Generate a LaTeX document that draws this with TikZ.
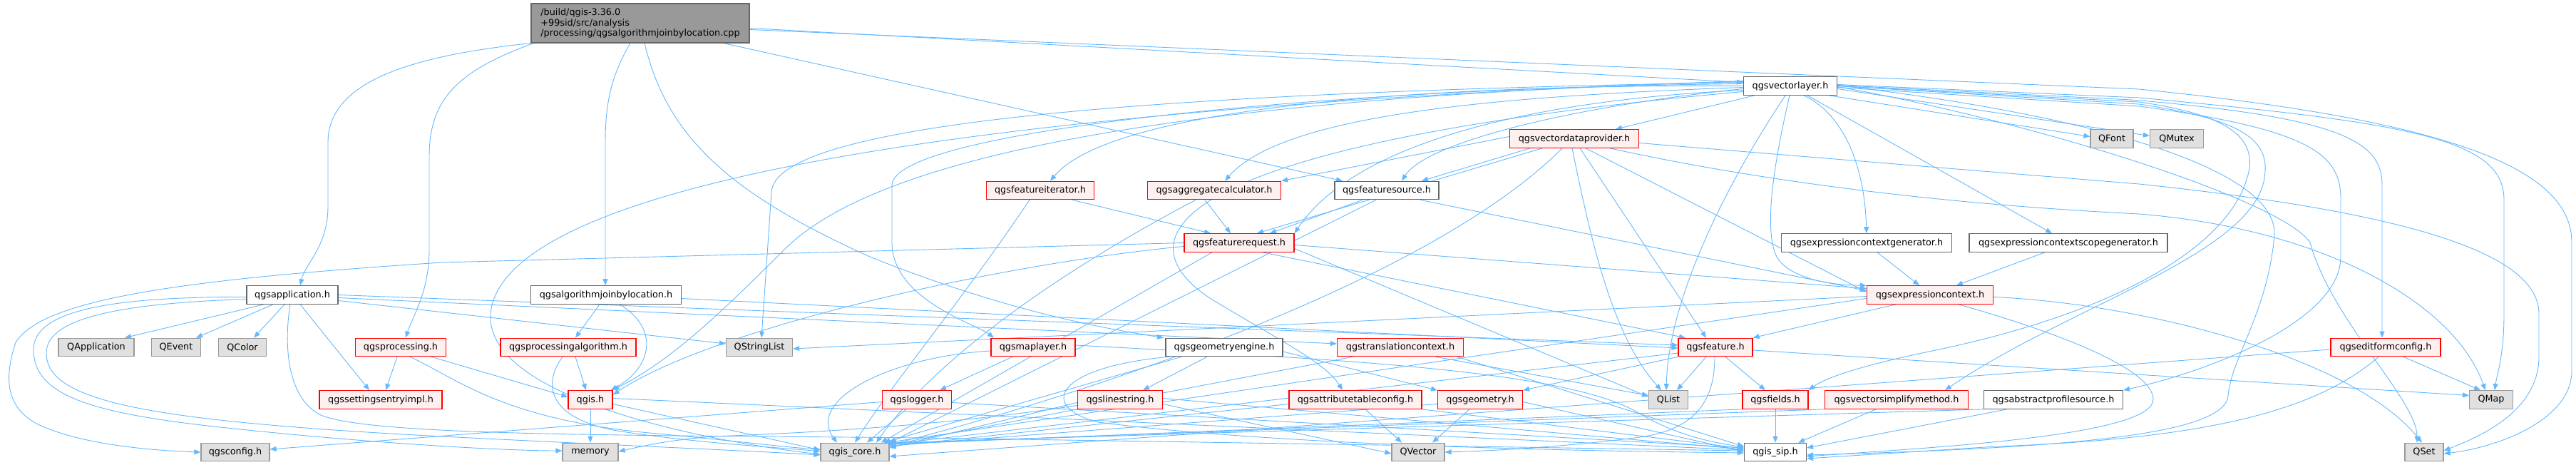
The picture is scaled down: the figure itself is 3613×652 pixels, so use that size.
\documentclass[tikz,border=0pt]{standalone}
\usepackage{fontspec}
\setmainfont{DejaVu Sans}
\usetikzlibrary{arrows.meta}
\pgfdeclarelayer{bg}
\pgfsetlayers{bg,main}
\definecolor{edgec}{HTML}{63B8FF}
\definecolor{mainfill}{HTML}{999999}
\definecolor{mainborder}{HTML}{666666}
\definecolor{redfill}{HTML}{FFF0F0}
\definecolor{redborder}{HTML}{FF0000}
\definecolor{grayfill}{HTML}{E0E0E0}
\definecolor{grayborder}{HTML}{999999}
\definecolor{whiteborder}{HTML}{666666}
\begin{document}
\begin{tikzpicture}[x=1pt,y=-1pt,
  nd/.style={rectangle, minimum height=25.5pt, inner xsep=4pt, inner ysep=0pt, line width=1.2pt, font=\fontsize{12.8}{14.6}\selectfont},
  wnode/.style={nd, fill=white, draw=whiteborder},
  rnode/.style={nd, fill=redfill, draw=redborder},
  gnode/.style={nd, fill=grayfill, draw=grayborder},
  mainnode/.style={nd, fill=mainfill, draw=mainborder, minimum width=306pt, minimum height=55pt, align=left},
  lnk/.style={draw=edgec, line width=0.9pt, -{Triangle[length=9pt,width=7pt]}}]
\useasboundingbox (0,0) rectangle (3613,652);

% nodes
\node[mainnode] (main) at (898,32.5) {/build/qgis-3.36.0\\+99sid/src/analysis\\/processing/qgsalgorithmjoinbylocation.cpp};
\node[wnode, minimum width=131pt] (vl) at (2511,120.5) {qgsvectorlayer.h};
\node[rnode, minimum width=181pt] (vdp) at (2208,194.5) {qgsvectordataprovider.h};
\node[gnode, minimum width=60pt] (qfont) at (2962,194.5) {QFont};
\node[gnode, minimum width=75pt] (qmutex) at (3053,194.5) {QMutex};
\node[rnode, minimum width=151pt] (fiter) at (1459,267) {qgsfeatureiterator.h};
\node[rnode, minimum width=187pt] (aggr) at (1703,267) {qgsaggregatecalculator.h};
\node[wnode, minimum width=146pt] (fsrc) at (1945,267) {qgsfeaturesource.h};
\node[rnode, minimum width=154pt] (freq) at (1738,340.5) {qgsfeaturerequest.h};
\node[wnode, minimum width=239pt] (ecg) at (2618,340.5) {qgsexpressioncontextgenerator.h};
\node[wnode, minimum width=278pt] (ecsg) at (2901,340.5) {qgsexpressioncontextscopegenerator.h};
\node[wnode, minimum width=128pt] (app) at (410,413.5) {qgsapplication.h};
\node[wnode, minimum width=211pt] (ajbl) at (850,413.5) {qgsalgorithmjoinbylocation.h};
\node[rnode, minimum width=177pt] (ec) at (2707,413.5) {qgsexpressioncontext.h};
\node[gnode, minimum width=106pt] (qapp) at (135,487) {QApplication};
\node[gnode, minimum width=69pt] (qevent) at (247,487) {QEvent};
\node[gnode, minimum width=67pt] (qcolor) at (340,487) {QColor};
\node[rnode, minimum width=127pt] (proc) at (562,487) {qgsprocessing.h};
\node[rnode, minimum width=190pt] (palg) at (797,487) {qgsprocessingalgorithm.h};
\node[gnode, minimum width=93pt] (qsl) at (1065,487) {QStringList};
\node[rnode, minimum width=118pt] (maplayer) at (1449,487) {qgsmaplayer.h};
\node[wnode, minimum width=164pt] (geng) at (1717,487) {qgsgeometryengine.h};
\node[rnode, minimum width=177pt] (trans) at (1964,487) {qgstranslationcontext.h};
\node[rnode, minimum width=104pt] (feature) at (2406,487) {qgsfeature.h};
\node[rnode, minimum width=154pt] (efc) at (3346,487) {qgseditformconfig.h};
\node[rnode, minimum width=172pt] (settings) at (534,560.5) {qgssettingsentryimpl.h};
\node[rnode, minimum width=62pt] (qgis) at (828,560.5) {qgis.h};
\node[rnode, minimum width=97pt] (logger) at (1286,560.5) {qgslogger.h};
\node[rnode, minimum width=119pt] (linestr) at (1571,560.5) {qgslinestring.h};
\node[rnode, minimum width=186pt] (attr) at (1901,560.5) {qgsattributetableconfig.h};
\node[rnode, minimum width=119pt] (geom) at (2076,560.5) {qgsgeometry.h};
\node[gnode, minimum width=55pt] (qlist) at (2340,560.5) {QList};
\node[rnode, minimum width=92pt] (fields) at (2490,560.5) {qgsfields.h};
\node[rnode, minimum width=201pt] (vsm) at (2660,560.5) {qgsvectorsimplifymethod.h};
\node[wnode, minimum width=195pt] (aps) at (2880,560.5) {qgsabstractprofilesource.h};
\node[gnode, minimum width=61pt] (qmap) at (3494,560.5) {QMap};
\node[gnode, minimum width=96pt] (config) at (330,634) {qgsconfig.h};
\node[gnode, minimum width=78pt] (memory) at (828,634) {memory};
\node[gnode, minimum width=96pt] (core) at (1199,634) {qgis\_core.h};
\node[gnode, minimum width=74pt] (qvector) at (1989,634) {QVector};
\node[wnode, minimum width=87pt] (sip) at (2490,634) {qgis\_sip.h};
\node[gnode, minimum width=54pt] (qset) at (3400,634) {QSet};

\begin{pgfonlayer}{bg}
% main
\draw[lnk] (main.south west) .. controls (560,80) and (460,120) .. (460,200) -- (460,290) .. controls (460,345) and (428,370) .. ([xshift=11pt]app.north);
\draw[lnk] ([xshift=4pt]main.south west) .. controls (640,100) and (602,140) .. (602,220) -- (602,350) .. controls (602,410) and (578,445) .. ([xshift=7pt]proc.north);
\draw[lnk] ([xshift=-14pt]main.south) .. controls (855,110) and (849,150) .. (849,200) -- ([xshift=-1pt]ajbl.north);
\draw[lnk] ([xshift=6pt]main.south) .. controls (935,190) and (1020,270) .. (1220,360) .. controls (1420,440) and (1560,462) .. ([xshift=-85pt]geng.north);
\draw[lnk] ([xshift=117pt]main.south) -- ([xshift=-62pt]fsrc.north);
\draw[lnk] ([yshift=-7pt]main.east) -- ([yshift=5pt]vl.west);
\draw[lnk] ([yshift=-9pt]main.east) -- (3000,125) .. controls (3450,170) and (3607,240) .. (3607,340) -- (3607,520) .. controls (3607,590) and (3500,628) .. ([yshift=-2pt]qset.east);
% vl right
\draw[lnk] ([xshift=-12pt]vl.south east) -- ([yshift=3pt]qfont.west);
\draw[lnk] ([yshift=-4pt]vl.east) -- ([yshift=4pt]qmutex.west);
\draw[lnk] ([yshift=1pt]vl.east) -- (2990,140) .. controls (3290,165) and (3341,200) .. (3341,260) -- ([xshift=-5pt]efc.north);
\draw[lnk] ([yshift=2pt]vl.east) -- (3000,137) .. controls (3380,172) and (3512,195) .. (3512,280) -- (3512,440) .. controls (3512,500) and (3502,525) .. ([xshift=5pt]qmap.north);
\draw[lnk] ([yshift=-1pt]vl.east) .. controls (2850,170) and (3200,280) .. (3240,340) .. controls (3270,450) and (3390,560) .. ([xshift=-10pt]qset.north);
\draw[lnk] (vl.east) -- (3000,143) .. controls (3120,160) and (3160,190) .. (3155,235) .. controls (3140,330) and (3000,430) .. (2720,490) .. controls (2610,512) and (2560,530) .. (fields.north east);
\draw[lnk] (vl.east) -- (3000,146) .. controls (3165,170) and (3185,205) .. (3175,255) .. controls (3150,360) and (2900,430) .. ([xshift=68pt]vsm.north);
\draw[lnk] ([yshift=-2pt]vl.east) -- (3000,149) .. controls (3250,182) and (3283,220) .. (3283,280) -- (3283,360) .. controls (3283,450) and (3100,520) .. (aps.north east);
\draw[lnk] ([yshift=1pt]vl.east) .. controls (3000,170) and (3195,250) .. (3190,330) .. controls (3180,440) and (3130,500) .. (3125,555) .. controls (3120,610) and (2900,628) .. ([yshift=-4pt]sip.east);
% vl bottom
\draw[lnk] ([xshift=19pt]vl.south) .. controls (2585,160) and (2615,230) .. (ecg.north);
\draw[lnk] ([xshift=24pt]vl.south) -- ([xshift=-23pt]ecsg.north);
\draw[lnk] ([xshift=-1pt]vl.south) .. controls (2490,220) and (2470,330) .. (2495,365) .. controls (2520,395) and (2580,400) .. (ec.north west);
\draw[lnk] ([xshift=-7pt]vl.south) .. controls (2420,260) and (2340,420) .. ([xshift=-3pt]qlist.north);
\draw[lnk] ([xshift=-50pt]vl.south) -- ([xshift=58pt]vdp.north);
% vl left
\draw[lnk] ([yshift=-4pt]vl.west) .. controls (2200,150) and (2000,200) .. ([xshift=21pt]fsrc.north);
\draw[lnk] ([yshift=-2pt]vl.west) .. controls (2100,135) and (1800,160) .. ([xshift=15pt]aggr.north);
\draw[lnk] (vl.west) .. controls (2000,118) and (1560,150) .. ([xshift=14pt]fiter.north);
\draw[lnk] ([yshift=-6pt]vl.west) .. controls (2150,140) and (1900,200) .. (freq.north east);
\draw[lnk] ([yshift=3pt]vl.west) .. controls (1900,122) and (1251,180) .. (1251,260) -- (1251,340) .. controls (1251,420) and (1370,455) .. ([xshift=-55pt]maplayer.north);
\draw[lnk] ([yshift=5pt]vl.west) .. controls (1700,128) and (1085,165) .. (1082,270) -- ([xshift=3pt]qsl.north);
\draw[lnk] ([yshift=6pt]vl.west) .. controls (1500,140) and (1200,250) .. (1100,350) .. controls (1000,450) and (940,505) .. (qgis.north east);
\draw[lnk] ([yshift=7pt]vl.west) .. controls (1100,160) and (700,300) .. (688,440) .. controls (680,560) and (1000,620) .. ([yshift=-3pt]core.west);
\draw[lnk] ([yshift=-8pt]vl.west) .. controls (1650,200) and (1560,330) .. (1700,420) .. controls (1800,480) and (1860,510) .. ([xshift=-18pt]attr.north);
% vdp
\draw[lnk] ([yshift=3pt]vdp.west) -- (aggr.north east);
\draw[lnk] ([xshift=-45pt]vdp.south) -- ([xshift=25pt]freq.north);
\draw[lnk] ([xshift=-62pt]vdp.south) -- ([xshift=49pt]fsrc.north);
\draw[lnk] ([xshift=-17pt]vdp.south) .. controls (2000,400) and (1500,560) .. ([yshift=-3pt]core.north east);
\draw[lnk] ([xshift=-3pt]vdp.south) .. controls (2230,330) and (2260,470) .. ([xshift=-10pt]qlist.north);
\draw[lnk] ([xshift=8pt]vdp.south) -- ([xshift=-13pt]feature.north);
\draw[lnk] ([xshift=16pt]vdp.south) -- ([yshift=4pt]ec.west);
\draw[lnk] ([xshift=50pt]vdp.south) .. controls (2450,250) and (2700,285) .. (3000,300) .. controls (3250,320) and (3440,420) .. ([xshift=-8pt]qmap.north);
\draw[lnk] ([yshift=-6pt]vdp.east) -- (3000,258) .. controls (3400,300) and (3561,360) .. (3561,440) -- (3561,500) .. controls (3561,580) and (3470,615) .. ([yshift=2pt]qset.east);
% fsrc
\draw[lnk] ([xshift=-34pt]fsrc.south) -- ([xshift=43pt]freq.north);
\draw[lnk] ([xshift=-15pt]fsrc.south) -- (core.north east);
\draw[lnk] ([xshift=47pt]fsrc.south) -- ([yshift=6pt]ec.west);
% fiter, aggr
\draw[lnk] ([xshift=45pt]fiter.south) -- ([xshift=-40pt]freq.north);
\draw[lnk] ([xshift=-15pt]fiter.south) .. controls (1350,420) and (1250,540) .. (core.north);
\draw[lnk] ([xshift=-13pt]aggr.south) -- ([xshift=-12pt]freq.north);
\draw[lnk] ([xshift=68pt]aggr.south west) .. controls (1450,400) and (1300,520) .. ([xshift=30pt]core.north);
% freq
\draw[lnk] (freq.west) -- (620,368) .. controls (250,392) and (60,420) .. (22,480) .. controls (2,540) and (12,582) .. (70,602) .. controls (130,625) and (220,632) .. (config.west);
\draw[lnk] ([yshift=-5pt]freq.west) .. controls (1400,370) and (1000,460) .. ([yshift=7pt]qgis.east);
\draw[lnk] ([xshift=-38pt]freq.south) -- ([xshift=-12pt]core.north east);
\draw[lnk] ([yshift=-3pt]freq.east) -- ([yshift=9pt]ec.west);
\draw[lnk] ([xshift=33pt]freq.south) -- ([xshift=-42pt]feature.north);
\draw[lnk] ([yshift=-8pt]freq.east) -- ([yshift=4pt]qlist.west);
% app
\draw[lnk] ([xshift=-40pt]app.south) -- ([xshift=40pt]qapp.north);
\draw[lnk] ([xshift=-27pt]app.south) -- ([xshift=28pt]qevent.north);
\draw[lnk] ([xshift=-11pt]app.south) -- ([xshift=16pt]qcolor.north);
\draw[lnk] ([xshift=11pt]app.south) -- ([xshift=-16pt]settings.north);
\draw[lnk] ([yshift=-3pt]app.west) .. controls (180,416) and (47,430) .. (47,490) .. controls (47,552) and (120,578) .. (300,598) .. controls (500,620) and (700,632) .. ([yshift=2pt]memory.west);
\draw[lnk] ([yshift=-6pt]app.west) .. controls (150,426) and (65,450) .. (65,495) .. controls (65,562) and (200,590) .. (620,612) .. controls (900,626) and (1050,632) .. ([yshift=-4pt]core.west);
\draw[lnk] ([xshift=-3pt]app.south) .. controls (397,490) and (405,560) .. (450,582) .. controls (520,612) and (900,610) .. (1300,614) -- ([yshift=2pt]sip.west);
\draw[lnk] ([yshift=-8pt]app.east) -- ([yshift=5pt]qsl.west);
\draw[lnk] ([yshift=-4pt]app.east) -- ([yshift=5pt]trans.west);
\draw[lnk] (app.east) -- ([yshift=3pt]feature.west);
% proc, palg, ajbl
\draw[lnk] ([xshift=-5pt]proc.south) -- ([xshift=7pt]settings.north);
\draw[lnk] ([xshift=43pt]proc.south) -- ([yshift=4pt]qgis.west);
\draw[lnk] ([xshift=13pt]proc.south) .. controls (640,530) and (700,585) .. (900,606) .. controls (1050,620) and (1110,628) .. ([yshift=4pt]core.west);
\draw[lnk] ([xshift=10pt]palg.south) -- ([xshift=-6pt]qgis.north);
\draw[lnk] ([xshift=-8pt]palg.south) .. controls (760,540) and (770,585) .. (860,603) .. controls (960,620) and (1100,628) .. ([yshift=1pt]core.west);
\draw[lnk] ([xshift=-9pt]ajbl.south) -- ([xshift=10pt]palg.north);
\draw[lnk] ([xshift=19pt]ajbl.south) .. controls (925,460) and (915,515) .. ([xshift=-3pt]qgis.north east);
\draw[lnk] ([yshift=-5pt]ajbl.east) -- ([yshift=-1pt]feature.west);
% qgis
\draw[lnk] (qgis.south) -- (memory.north);
\draw[lnk] ([yshift=-6pt]qgis.east) -- ([yshift=3pt]core.west);
\draw[lnk] ([yshift=2pt]qgis.east) -- ([yshift=3pt]sip.west);
% logger, maplayer
\draw[lnk] ([xshift=-15pt]logger.south) -- ([xshift=17pt]core.north);
\draw[lnk] ([yshift=-3pt]logger.west) -- ([yshift=4pt]config.east);
\draw[lnk] ([yshift=-4pt]logger.east) -- ([yshift=6pt]sip.west);
\draw[lnk] ([xshift=-29pt]maplayer.south) -- ([xshift=32pt]logger.north);
\draw[lnk] ([yshift=-5pt]maplayer.west) .. controls (1250,500) and (1130,560) .. ([xshift=-25pt]core.north);
\draw[lnk] ([yshift=3pt]maplayer.east) .. controls (1900,505) and (2200,520) .. (2300,580) .. controls (2350,610) and (2400,620) .. ([yshift=7pt]sip.west);
% geng
\draw[lnk] ([xshift=-24pt]geng.south) -- ([xshift=32pt]linestr.north);
\draw[lnk] ([xshift=-60pt]geng.south) -- ([xshift=-8pt]core.north east);
\draw[lnk] ([xshift=-78pt]geng.south) .. controls (1480,515) and (1455,570) .. (1540,592) .. controls (1800,625) and (2200,632) .. ([yshift=-1pt]sip.west);
\draw[lnk] ([yshift=-6pt]geng.east) -- (geom.north west);
% linestr
\draw[lnk] ([yshift=-4pt]linestr.west) -- ([yshift=6pt]core.east);
\draw[lnk] ([yshift=-8pt]linestr.west) .. controls (1300,600) and (1100,608) .. (1000,612) .. controls (930,618) and (900,626) .. ([yshift=1pt]memory.east);
\draw[lnk] ([yshift=2pt]linestr.east) -- ([yshift=4pt]sip.west);
\draw[lnk] ([yshift=-6pt]linestr.east) -- ([yshift=-2pt]qvector.west);
% attr, geom, trans
\draw[lnk] ([xshift=14pt]attr.south) -- ([xshift=-23pt]qvector.north);
\draw[lnk] ([yshift=-6pt]attr.west) -- ([yshift=8pt]core.east);
\draw[lnk] (attr.south east) -- ([yshift=5pt]sip.west);
\draw[lnk] ([xshift=-15pt]geom.south) -- ([xshift=20pt]qvector.north);
\draw[lnk] ([yshift=-6pt]geom.west) -- ([yshift=9pt]core.east);
\draw[lnk] ([yshift=-3pt]geom.east) -- ([yshift=1pt]sip.west);
\draw[lnk] ([xshift=-67pt]trans.south) -- ([yshift=10pt]core.east);
\draw[lnk] ([xshift=50pt]trans.south) -- ([yshift=6pt]qlist.west);
\draw[lnk] ([xshift=80pt]trans.south) -- ([yshift=8pt]sip.west);
% feature
\draw[lnk] ([xshift=-13pt]feature.south) -- ([xshift=12pt]qlist.north);
\draw[lnk] ([xshift=14pt]feature.south) -- ([xshift=-14pt]fields.north);
\draw[lnk] (feature.south west) -- (geom.north east);
\draw[lnk] ([xshift=-1pt]feature.south) .. controls (2405,560) and (2380,602) .. (2300,613) .. controls (2200,626) and (2100,632) .. (qvector.east);
\draw[lnk] ([yshift=-4pt]feature.east) -- ([yshift=6pt]qmap.west);
\draw[lnk] ([yshift=-8pt]feature.west) -- ([yshift=11pt]core.east);
% fields, vsm, aps
\draw[lnk] (fields.south) -- (sip.north);
\draw[lnk] (fields.south west) -- ([yshift=11pt]core.east);
\draw[lnk] ([xshift=-29pt]vsm.south) -- ([xshift=-12pt]sip.north east);
\draw[lnk] (vsm.south west) -- ([yshift=12pt]core.east);
\draw[lnk] ([xshift=-65pt]aps.south) -- ([yshift=6pt]sip.east);
\draw[lnk] (aps.south west) -- ([yshift=13pt]core.east);
% ec
\draw[lnk] ([xshift=-48pt]ec.south) -- (feature.north east);
\draw[lnk] ([yshift=-3pt]ec.east) .. controls (3000,425) and (3300,500) .. ([xshift=-3pt]qset.north);
\draw[lnk] ([xshift=40pt]ec.south) .. controls (2900,470) and (3020,520) .. (3020,560) .. controls (3020,612) and (2700,628) .. ([yshift=-6pt]sip.east);
\draw[lnk] ([yshift=-5pt]ec.west) -- ([xshift=-4pt]core.north east);
\draw[lnk] ([yshift=-2pt]ec.west) -- ([yshift=-2pt]qsl.east);
\draw[lnk] ([xshift=15pt]ecg.south) -- ([xshift=-15pt]ec.north);
\draw[lnk] ([xshift=-33pt]ecsg.south) -- ([xshift=37pt]ec.north);
% efc
\draw[lnk] ([xshift=25pt]efc.south) -- ([xshift=-15pt]qmap.north);
\draw[lnk] ([yshift=-3pt]efc.west) -- ([yshift=-6pt]core.east);
\draw[lnk] ([xshift=-10pt]efc.south) .. controls (3250,575) and (3100,615) .. (2800,626) -- ([yshift=-9pt]sip.east);
\end{pgfonlayer}
\end{tikzpicture}
\end{document}
